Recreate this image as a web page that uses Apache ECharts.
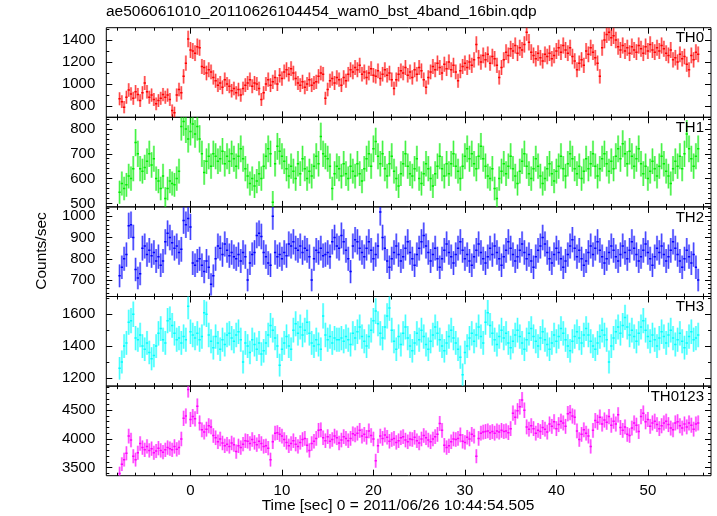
<!DOCTYPE html>
<html>
<head>
<meta charset="utf-8">
<script src="https://cdn.jsdelivr.net/npm/echarts@6/dist/echarts.min.js"></script>
<style>
html,body{margin:0;padding:0;background:#fff;}
#chart{width:717px;height:516px;}
</style>
</head>
<body>
<div id="chart"></div>
<script>
// ---- data ----
const titleText = 'ae506061010_20110626104454_wam0_bst_4band_16bin.qdp';
const xLabelText = 'Time [sec] 0 = 2011/06/26 10:44:54.505';
const yLabelText = 'Counts/sec';
const panelNames = ['TH0', 'TH1', 'TH2', 'TH3', 'TH0123'];
const timeStart = -7.75;   // centre of first bin [sec]
const binWidth = 0.25;     // 16 bins of WAM 1/64 s

const th0 = [
866,840,790,880, 946,910,870,930, 905,850,920,1010, 930,880,900,860,
820,850,870,905, 880,900,860,760, 740,900,950,920, 1070,1190,1410,1310,
1300,1280,1340,1330, 1160,1150,1100,1130, 1110,1060,1030,990, 1010,970,1040,1000,
980,940,960,920, 950,900,960,990, 1010,1040,980,1010, 1000,960,860,920,
1000,1040,990,1020, 1060,1000,1080,1050, 1110,1130,1090,1140, 1100,1050,1010,990,
1020,970,1000,1040, 990,1010,1020,1070, 1100,1090,870,950, 1030,1050,1010,1060,
1040,990,1060,1030, 1090,1130,1110,1150, 1130,1170,1090,1110, 1060,1100,1140,1080,
1070,1120,1050,1090, 1130,1080,1100,1040, 960,1040,1090,1120, 1100,1150,1080,1110,
1060,1130,1090,1150, 1120,1040,970,1060, 1110,1160,1130,1190, 1150,1100,1180,1140,
1200,1130,1170,1110, 1030,1120,1160,1190, 1150,1200,1170,1220, 1360,1240,1200,1260,
1220,1270,1190,1250, 1230,1170,1060,1150, 1220,1290,1260,1320, 1300,1350,1280,1330,
1310,1360,1470,1380, 1290,1260,1230,1280, 1240,1210,1270,1250, 1280,1230,1260,1300,
1330,1290,1350,1310, 1280,1330,1250,1210, 1130,1190,1220,1170, 1300,1270,1330,1290,
1240,1190,1070,1330, 1400,1450,1470,1420, 1440,1400,1340,1310, 1350,1300,1330,1280,
1340,1310,1290,1350, 1320,1280,1340,1300, 1360,1310,1290,1330, 1300,1350,1320,1280,
1260,1310,1220,1240, 1200,1270,1230,1250, 1180,1130,1260,1220, 1290,1270
];
const th1 = [
545,580,560,575, 610,600,640,745, 700,640,630,645, 670,700,655,680,
600,590,560,610, 520,560,590,580, 575,600,630,810, 830,800,760,790,
820,780,810,760, 700,625,670,690, 650,700,690,670, 680,710,660,690,
670,700,680,650, 690,720,680,640, 610,580,600,570, 590,620,600,650,
690,720,700,505, 660,730,710,690, 670,640,610,650, 630,600,660,620,
680,640,600,630, 610,650,690,660, 770,700,690,680, 650,560,620,650,
640,610,660,620, 600,650,630,610, 660,620,590,640, 680,700,650,720,
750,690,660,700, 640,610,660,690, 630,600,570,620, 660,700,650,620,
610,640,680,600, 580,620,660,640, 600,570,620,650, 690,640,610,660,
620,660,700,650, 630,600,650,690, 720,680,700,660, 640,690,730,680,
650,610,600,640, 560,520,600,630, 660,620,650,690, 640,610,580,630,
670,700,650,620, 600,640,680,650, 610,580,600,640, 660,620,590,630,
650,690,640,610, 660,700,680,640, 620,650,600,630, 680,640,660,700,
650,610,640,680, 700,660,630,670, 640,690,720,680, 740,700,660,710,
690,650,680,720, 660,620,650,600, 630,670,640,610, 650,690,660,630,
610,580,640,670, 650,690,640,700, 780,720,680,650, 690,720
];
const th2 = [
720,760,800,820, 955,960,900,750, 710,730,850,860, 820,840,815,830,
790,810,770,790, 880,920,900,875, 850,860,830,845, 980,960,990,950,
780,770,790,800, 770,740,790,760, 680,720,800,860, 850,820,870,840,
815,830,810,800, 820,790,830,810, 700,780,820,830, 910,920,905,830,
810,780,770,1000, 830,810,820,800, 830,815,870,860, 880,850,840,860,
830,850,840,810, 700,800,840,830, 850,815,820,830, 810,880,900,860,
850,910,880,840, 800,740,860,890, 880,850,830,810, 850,880,840,800,
820,860,1020,900, 850,790,760,800, 830,860,820,790, 810,850,880,830,
800,770,820,850, 880,910,860,830, 790,820,850,800, 760,800,840,870,
830,810,780,820, 850,880,840,800, 820,790,770,810, 840,870,830,800,
780,810,850,820, 860,830,800,770, 810,840,880,850, 820,790,810,840,
870,830,800,820, 790,760,810,840, 860,900,870,830, 800,780,820,850,
830,800,760,790, 820,860,890,850, 810,840,800,770, 790,830,860,820,
850,880,840,810, 780,800,830,860, 840,810,790,820, 860,830,800,840,
880,850,820,790, 810,840,870,830, 800,770,810,850, 830,860,820,790,
810,840,880,850, 820,790,760,800, 840,810,780,820, 760,700
];
const th3 = [
1260,1300,1400,1420, 1550,1560,1600,1450, 1440,1470,1400,1380, 1420,1360,1320,1340,
1400,1480,1510,1440, 1420,1560,1570,1530, 1480,1440,1450,1420, 1460,1440,1650,1490,
1470,1450,1480,1440, 1460,1610,1600,1470, 1430,1390,1460,1420, 1380,1440,1410,1470,
1480,1450,1430,1470, 1490,1440,1300,1420, 1400,1360,1440,1410, 1380,1420,1350,1370,
1420,1470,1530,1500, 1450,1400,1280,1380, 1420,1460,1400,1380, 1500,1540,1480,1520,
1470,1500,1550,1480, 1420,1400,1440,1410, 1380,1590,1470,1440, 1460,1420,1450,1440,
1440,1450,1430,1460, 1440,1410,1480,1450, 1490,1520,1460,1430, 1400,1460,1500,1560,
1620,1540,1480,1450, 1520,1590,1640,1500, 1430,1380,1460,1410, 1480,1520,1450,1400,
1370,1420,1480,1440, 1500,1460,1410,1380, 1430,1470,1520,1480, 1440,1400,1370,1420,
1460,1500,1450,1420, 1380,1330,1220,1360, 1400,1450,1480,1430, 1470,1520,1460,1420,
1550,1610,1530,1480, 1440,1410,1460,1500, 1450,1480,1420,1390, 1430,1470,1500,1460,
1420,1380,1440,1480, 1510,1460,1430,1400, 1450,1490,1440,1410, 1380,1420,1470,1430,
1460,1510,1480,1440, 1400,1370,1430,1460, 1490,1450,1420,1470, 1510,1470,1430,1400,
1380,1420,1460,1500, 1470,1440,1300,1400, 1450,1490,1520,1480, 1530,1580,1520,1470,
1500,1460,1430,1480, 1520,1560,1500,1460, 1430,1470,1440,1400, 1450,1490,1460,1420,
1470,1500,1450,1410, 1440,1480,1430,1390, 1420,1460,1490,1440, 1450,1470
];
const th0123 = [
3400,3560,3640,3750, 4050,3980,3700,3640, 3760,3920,3850,3810, 3870,3800,3830,3760,
3790,3840,3800,3770, 3810,3850,3830,3810, 3870,3820,3850,4000, 4360,4400,4860,4340,
4390,4350,4570,4280, 4160,4120,4170,4230, 4210,4060,4020,3950, 4000,3930,3880,3910,
3870,3930,3900,3780, 3880,3850,3910,3970, 3960,3920,3990,3940, 3900,3960,3920,3870,
3880,3840,3640,3950, 4100,4110,4080,4050, 3990,3940,3880,3920, 3970,3910,3870,3940,
3990,4010,3890,3800, 3920,3960,4010,4150, 4160,4020,3970,4040, 3960,3990,4050,4020,
3930,3980,4040,4010, 3970,4010,4090,4070, 4100,4150,4050,4080, 4030,4140,4060,4000,
3620,3880,4050,4010, 4070,4030,3960,3990, 4010,3940,3970,4020, 4040,3980,3950,4000,
3990,4030,3970,3930, 4000,4060,4020,3980, 3950,4000,4040,4080, 4270,4150,3890,3850,
3880,3950,4000,3990, 4010,4070,3960,3940, 4030,4000,4080,4050, 3700,4010,4100,4120,
4130,4140,4110,4130, 4100,4140,4120,4150, 4130,4140,4110,4180, 4450,4380,4490,4560,
4680,4500,4210,4170, 4230,4180,4100,4150, 4130,4200,4170,4120, 4260,4220,4300,4180,
4250,4310,4280,4220, 4440,4460,4400,4380, 4140,3990,4080,4160, 4100,4050,3870,4150,
4320,4290,4380,4260, 4330,4290,4390,4240, 4310,4260,4420,4200, 4150,4210,4080,4060,
4190,4280,4240,4130, 4390,4450,4300,4340, 4220,4280,4310,4250, 4180,4230,4280,4310,
4250,4190,4160,4280, 4300,4230,4190,4260, 4210,4280,4240,4170, 4260,4280
];

// tick values
const xMajorTicks = [0, 10, 20, 30, 40, 50];
const xMinorTicks = [-8,-6,-4,-2,0,2,4,6,8,10,12,14,16,18,20,22,24,26,28,30,32,34,36,38,40,42,44,46,48,50,52,54,56];
const th0Major = [800, 1000, 1200, 1400];
const th0Minor = [700, 800, 900, 1000, 1100, 1200, 1300, 1400, 1500];
const th1Major = [500, 600, 700, 800];
const th1Minor = [500,520,540,560,580,600,620,640,660,680,700,720,740,760,780,800,820,840];
const th2Major = [700, 800, 900, 1000];
const th2Minor = [640,660,680,700,720,740,760,780,800,820,840,860,880,900,920,940,960,980,1000,1020,1040];
const th3Major = [1200, 1400, 1600];
const th3Minor = [1200, 1300, 1400, 1500, 1600, 1700];
const th0123Major = [3500, 4000, 4500];
const th0123Minor = [3400,3500,3600,3700,3800,3900,4000,4100,4200,4300,4400,4500,4600,4700,4800,4900];

// ---- layout / style ----
const FONT = "'Liberation Sans', Arial, Helvetica, sans-serif";
const xRange = [-9.2, 56.9];
const panels = [
  {data: th0,    color: '#ff0000', range: [698, 1512],  major: th0Major,    minor: th0Minor},
  {data: th1,    color: '#00ee00', range: [486, 847],   major: th1Major,    minor: th1Minor},
  {data: th2,    color: '#0000ff', range: [623, 1044],  major: th2Major,    minor: th2Minor},
  {data: th3,    color: '#00ffff', range: [1148, 1712], major: th3Major,    minor: th3Minor},
  {data: th0123, color: '#ff00ff', range: [3360, 4921], major: th0123Major, minor: th0123Minor}
];
const G_LEFT = 106.3, G_WIDTH = 604.7, G_TOP = 27.7, G_H = 89.6;

const grids = [], xAxes = [], yAxes = [], series = [], graphics = [];

function axisBase(extra) {
  return Object.assign({
    type: 'value',
    axisLine: {show: false, onZero: false},
    splitLine: {show: false},
    axisLabel: {show: false},
    axisPointer: {show: false}
  }, extra);
}
const plain = v => String(Math.round(v));

panels.forEach((p, i) => {
  const top = G_TOP + G_H * i;
  grids.push({left: G_LEFT, width: G_WIDTH, top: top, height: G_H,
    show: true, borderColor: '#000', borderWidth: 1, backgroundColor: 'transparent', containLabel: false});
  const last = i === panels.length - 1;
  const xb = xAxes.length;
  [['bottom', xMinorTicks, 3], ['bottom', xMajorTicks, 6], ['top', xMinorTicks, 3], ['top', xMajorTicks, 6]]
    .forEach(([pos, vals, len], k) => {
      const ax = axisBase({gridIndex: i, position: pos, min: xRange[0], max: xRange[1],
        axisTick: {show: true, inside: true, length: len, customValues: vals, lineStyle: {color: '#000', width: 1}}});
      if (last && k === 1) {
        ax.axisLabel = {show: true, customValues: xMajorTicks, margin: 8, color: '#000',
          fontSize: 15, fontFamily: FONT, formatter: plain};
      }
      xAxes.push(ax);
    });
  const yb = yAxes.length;
  [['left', p.minor, 3], ['left', p.major, 6], ['right', p.minor, 3], ['right', p.major, 6]]
    .forEach(([pos, vals, len], k) => {
      const ax = axisBase({gridIndex: i, position: pos, min: p.range[0], max: p.range[1],
        axisTick: {show: true, inside: true, length: len, customValues: vals, lineStyle: {color: '#000', width: 1}}});
      if (k === 1) {
        ax.axisLabel = {show: true, customValues: p.major, margin: 11, color: '#000',
          fontSize: 15, fontFamily: FONT, formatter: plain};
      }
      yAxes.push(ax);
    });
  const color = p.color;
  series.push({
    type: 'custom',
    xAxisIndex: xb, yAxisIndex: yb,
    clip: true,
    silent: true,
    data: p.data.map((v, j) => [timeStart + j * binWidth, v, Math.sqrt(v / binWidth)]),
    renderItem: function (params, api) {
      const t = api.value(0), v = api.value(1), e = api.value(2);
      const c = api.coord([t, v]);
      const lo = api.coord([t, v - e]);
      const hi = api.coord([t, v + e]);
      const w = api.size([binWidth, 0])[0];
      return {type: 'group', children: [
        {type: 'line', shape: {x1: c[0], y1: lo[1], x2: c[0], y2: hi[1]},
          style: {stroke: color, lineWidth: 2.2, opacity: 0.4}},
        {type: 'line', shape: {x1: c[0], y1: lo[1], x2: c[0], y2: hi[1]},
          style: {stroke: color, lineWidth: 0.8, opacity: 0.75}},
        {type: 'line', shape: {x1: c[0] - w / 2, y1: c[1], x2: c[0] + w / 2, y2: c[1]},
          style: {stroke: color, lineWidth: 1.5}}
      ]};
    }
  });
  graphics.push({type: 'text', right: 717 - 704, top: top + 3,
    style: {text: panelNames[i], fill: '#000', font: '15px ' + FONT, textAlign: 'right'}, z: 100});
});

graphics.push({type: 'text', left: 106, top: 4,
  style: {text: titleText, fill: '#000', font: '15.5px ' + FONT}});
graphics.push({type: 'text', x: 398, y: 506,
  style: {text: xLabelText, fill: '#000', font: '15.5px ' + FONT, textAlign: 'center', textVerticalAlign: 'middle'}});
graphics.push({type: 'text', x: 42, y: 251, rotation: Math.PI / 2,
  style: {text: yLabelText, fill: '#000', font: '15.5px ' + FONT, textAlign: 'center', textVerticalAlign: 'middle'}});

const chart = echarts.init(document.getElementById('chart'), null, {renderer: 'canvas'});
chart.setOption({
  animation: false,
  backgroundColor: '#fff',
  grid: grids,
  xAxis: xAxes,
  yAxis: yAxes,
  series: series,
  graphic: graphics
});
</script>
</body>
</html>
